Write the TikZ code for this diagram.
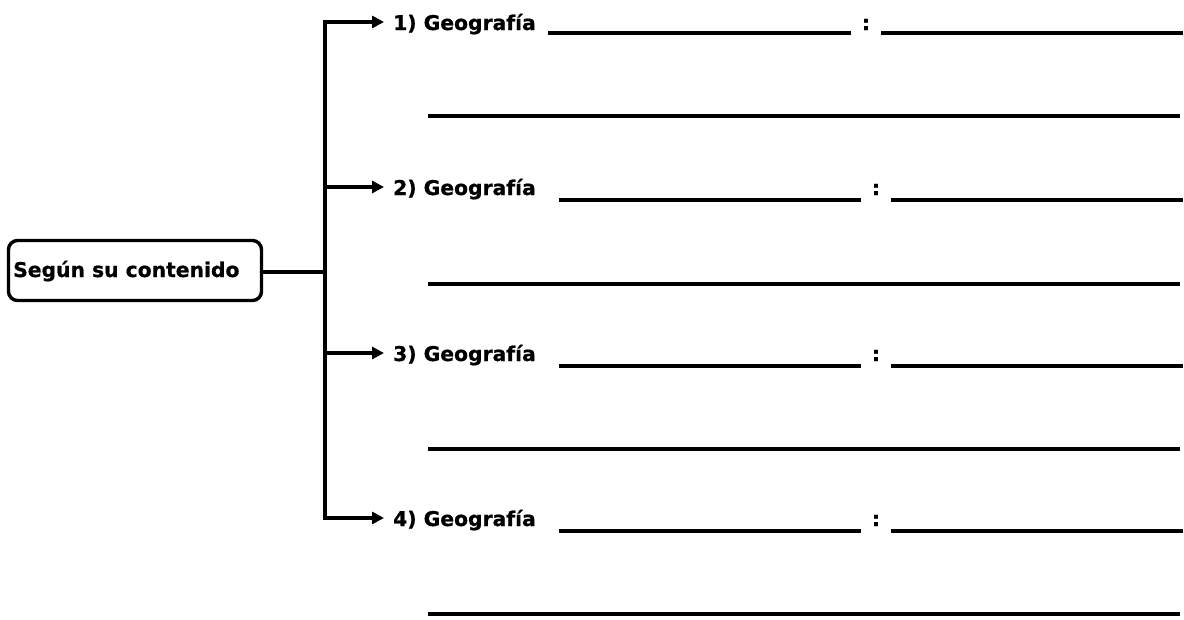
\documentclass[tikz,border=0pt]{standalone}
\usepackage{fontspec}
\setmainfont{DejaVu Sans}
\newfontfamily\lblfont[FakeBold=0.8]{DejaVu Sans Bold}
\usetikzlibrary{arrows.meta}
\begin{document}
\begin{tikzpicture}[x=1pt,y=-1pt,
  lbl/.style={font=\lblfont\fontsize{20.3}{22}\selectfont, inner sep=0pt, anchor=base west},
  conn/.style={line width=3.4pt},
  arr/.style={line width=3.4pt, -{Triangle[length=12pt,width=12pt]}, shorten >=9pt},
  blank/.style={line width=3.4pt},
  rootbox/.style={draw, line width=3.4pt, rounded corners=9pt, minimum width=253pt, minimum height=60pt, inner sep=0pt}
]
\useasboundingbox (0,0) rectangle (1184,619);
% root box
\node[rootbox] (box) at (135,270.5) {};
\node[lbl] (boxtxt) at (13,277) {Según su contenido};
% trunk
\coordinate (jc) at (325,272);
\coordinate (j1) at (325,22);
\coordinate (j2) at (325,187);
\coordinate (j3) at (325,353);
\coordinate (j4) at (325,518);
\draw[conn, line cap=rect] (j1) -- (j4);
\draw[conn] (box.east |- jc) -- (jc);
% labels
\node[lbl] (g1) at (393,30) {1) Geografía};
\node[lbl] (g2) at (393,195) {2) Geografía};
\node[lbl] (g3) at (393,361) {3) Geografía};
\node[lbl] (g4) at (393,526) {4) Geografía};
\draw[arr] (j1) -- (g1.west |- j1);
\draw[arr] (j2) -- (g2.west |- j2);
\draw[arr] (j3) -- (g3.west |- j3);
\draw[arr] (j4) -- (g4.west |- j4);
% colons
\node[lbl, anchor=base] (c1) at (866,30) {:};
\node[lbl, anchor=base] (c2) at (876,195) {:};
\node[lbl, anchor=base] (c3) at (876,361) {:};
\node[lbl, anchor=base] (c4) at (876,526) {:};
% blanks
\draw[blank] (548,33) -- (851,33);
\draw[blank] (881,33) -- (1183,33);
\draw[blank] (428,116) -- (1180,116);
\draw[blank] (559,200) -- (861,200);
\draw[blank] (891,200) -- (1183,200);
\draw[blank] (428,284) -- (1180,284);
\draw[blank] (559,366) -- (861,366);
\draw[blank] (891,366) -- (1183,366);
\draw[blank] (428,449) -- (1180,449);
\draw[blank] (559,531) -- (861,531);
\draw[blank] (891,531) -- (1183,531);
\draw[blank] (428,614) -- (1180,614);
\end{tikzpicture}
\end{document}
